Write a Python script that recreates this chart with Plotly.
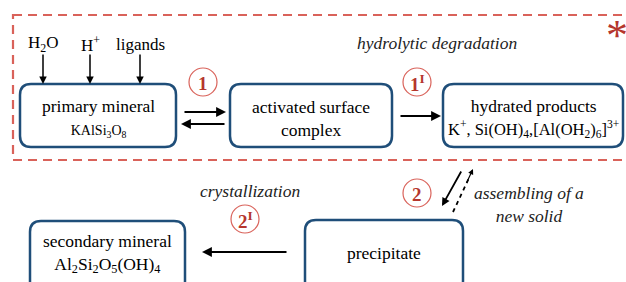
import plotly.graph_objects as go

# ---- content (text only) ----
box_labels = [
    "primary mineral<br><span style='font-size:14px'>KAlSi<sub>3</sub>O<sub>8</sub></span>",
    "activated surface<br>complex",
    "hydrated products<br><span style='font-size:16.5px'>K<sup>+</sup>, Si(OH)<sub>4</sub>,[Al(OH<sub>2</sub>)<sub>6</sub>]<sup>3+</sup></span>",
    "secondary mineral<br>Al<sub>2</sub>Si<sub>2</sub>O<sub>5</sub>(OH)<sub>4</sub>",
    "precipitate",
]
reagents = ["H<sub>2</sub>O", "H<sup>+</sup>", "ligands"]
step_labels = ["1", "1<sup>I</sup>", "2", "2<sup>I</sup>"]
process_labels = ["<i>hydrolytic degradation</i>", "<i>crystallization</i>",
                  "<i>assembling of a<br>new solid</i>"]
marker_label = "*"

# ---- layout geometry ----
W, H = 626, 282
boxes = [(20, 84, 176, 147), (230, 84, 392, 147), (443, 84, 623, 147),
         (30, 221, 185, 292), (305, 220, 463, 292)]
box_text_y = [118, 118, 118, 253, 253]
reag_x = [43, 90, 140]
steps = [(203, 82), (417, 82), (417, 193), (245, 219)]
proc_pos = [(437, 43), (250, 191), (529, 204)]

BLUE = "#1f4e79"
RED = "#d9625a"
DRED = "#b5362d"
FONT = "Liberation Serif"

fig = go.Figure()
fig.add_trace(go.Scatter(x=[0, W], y=[0, H], mode="markers",
                         marker=dict(opacity=0), hoverinfo="skip"))

def rrect(x0, y0, x1, y1, r=11):
    return (f"M {x0+r} {y0} L {x1-r} {y0} Q {x1} {y0} {x1} {y0+r} "
            f"L {x1} {y1-r} Q {x1} {y1} {x1-r} {y1} L {x0+r} {y1} "
            f"Q {x0} {y1} {x0} {y1-r} L {x0} {y0+r} Q {x0} {y0} {x0+r} {y0} Z")

shapes = []
# dashed red frame
shapes.append(dict(type="rect", x0=13, y0=15, x1=650, y1=160,
                   line=dict(color=RED, width=2.2, dash="9px,6px")))
for (x0, y0, x1, y1) in boxes:
    shapes.append(dict(type="path", path=rrect(x0, y0, x1, y1),
                       line=dict(color=BLUE, width=2.5), fillcolor="white"))
for (cx, cy) in steps:
    shapes.append(dict(type="circle", x0=cx-14, y0=cy-14, x1=cx+14, y1=cy+14,
                       line=dict(color=RED, width=1.2), fillcolor="white"))
# dashed return line
shapes.append(dict(type="line", x0=453, y0=212, x1=469, y1=178,
                   line=dict(color="black", width=1.8, dash="4px,4px")))

ann = []
for lab, (x0, y0, x1, y1), ty in zip(box_labels, boxes, box_text_y):
    ann.append(dict(x=(x0+x1)/2, y=ty, text=lab, showarrow=False,
                    font=dict(family=FONT, size=17.5, color="black"),
                    align="center"))
for lab, x in zip(reagents, reag_x):
    ann.append(dict(x=x, y=44, text=lab, showarrow=False,
                    font=dict(family=FONT, size=17, color="black")))
    ann.append(dict(x=x, y=84, ax=x, ay=53, axref="x", ayref="y",
                    text="", showarrow=True, arrowhead=2, arrowsize=1,
                    arrowwidth=1.5, arrowcolor="black"))
for lab, (cx, cy) in zip(step_labels, steps):
    ann.append(dict(x=cx, y=cy+1, text="<b>"+lab+"</b>", showarrow=False,
                    font=dict(family=FONT, size=19, color=DRED)))
for lab, (px, py) in zip(process_labels, proc_pos):
    ann.append(dict(x=px, y=py, text=lab, showarrow=False,
                    font=dict(family=FONT, size=17.5, color="#222")))
ann.append(dict(x=617, y=35, text=marker_label, showarrow=False,
                font=dict(family=FONT, size=44, color=DRED)))

def arrow(x0, y0, x1, y1, w=2.2):
    ann.append(dict(x=x1, y=y1, ax=x0, ay=y0, axref="x", ayref="y",
                    text="", showarrow=True, arrowhead=2, arrowsize=0.9,
                    arrowwidth=w, arrowcolor="black"))

arrow(183, 112, 226, 112)
arrow(226, 124, 181, 124)
arrow(399, 116, 441, 116)
arrow(288, 252, 202, 252)
arrow(462, 170, 442, 206, 1.8)
arrow(466, 184, 473, 169, 1.2)

fig.update_layout(width=W, height=H, margin=dict(l=0, r=0, t=0, b=0),
                  paper_bgcolor="white", plot_bgcolor="white",
                  showlegend=False, shapes=shapes, annotations=ann,
                  xaxis=dict(range=[0, W], visible=False, fixedrange=True),
                  yaxis=dict(range=[H, 0], visible=False, fixedrange=True))
fig.write_html("out.html", config={"displayModeBar": False},
               post_script="document.body.style.margin='0';document.body.style.overflow='hidden';")
